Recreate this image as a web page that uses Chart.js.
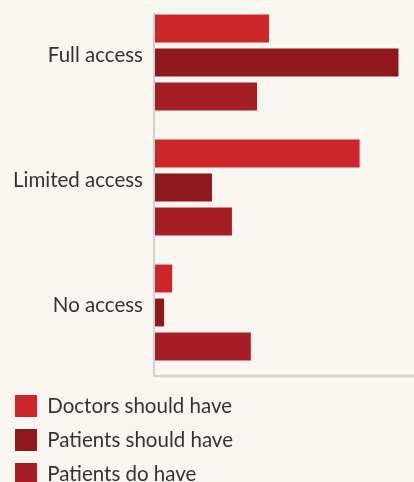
<!DOCTYPE html>
<html>
<head>
<meta charset="utf-8">
<script src="https://cdn.jsdelivr.net/npm/chart.js@4"></script>
<style>
  html, body { margin: 0; padding: 0; background: #f9f6f2; overflow: hidden; }
  #wrap { position: relative; width: 414px; height: 495px; }
</style>
</head>
<body>
<div id="wrap"><canvas id="myChart"></canvas></div>
<script>
// access levels and share of respondents (%)
const categories = ['Full access', 'Limited access', 'No access']
const doctorsShouldHave = [44, 79, 6.6]
const patientsShouldHave = [94, 22, 3.5]
const patientsDoHave = [39.4, 29.7, 37]
const seriesNames = ['Doctors should have', 'Patients should have', 'Patients do have']

// light grey axis lines (left + bottom), left one starts a bit below the top
const axisLines = {
  id: 'axisLines',
  afterDatasetsDraw(chart) {
    const { ctx, chartArea } = chart
    ctx.save()
    ctx.strokeStyle = '#d2d0cd'
    ctx.lineWidth = 2
    ctx.beginPath()
    ctx.moveTo(chartArea.left - 1, 13)
    ctx.lineTo(chartArea.left - 1, chartArea.bottom + 1)
    ctx.lineTo(chart.width, chartArea.bottom + 1)
    ctx.stroke()
    ctx.restore()
  }
}

const ctx = document.querySelector('#myChart')
new Chart(ctx, {
  type: 'bar',
  data: {
    labels: categories,
    datasets: [
      { label: seriesNames[0], data: doctorsShouldHave, backgroundColor: '#cc262b' },
      { label: seriesNames[1], data: patientsShouldHave, backgroundColor: '#8f181e' },
      { label: seriesNames[2], data: patientsDoHave, backgroundColor: '#a61e25' }
    ]
  },
  options: {
    indexAxis: 'y',
    responsive: true,
    maintainAspectRatio: false,
    animation: false,
    categoryPercentage: 0.816,
    barPercentage: 0.82,
    layout: { padding: { left: 3, right: 0, top: 0, bottom: 0 } },
    scales: {
      x: {
        min: 0,
        max: 100,
        display: true,
        ticks: { display: false },
        grid: { display: false, drawTicks: false },
        border: { display: false },
        afterFit(scale) { scale.height = 8 }
      },
      y: {
        ticks: {
          color: '#333',
          font: { family: 'Lato', size: 20.5 },
          padding: 12,
          labelOffset: -7
        },
        grid: { display: false, drawTicks: false },
        border: { display: false },
        afterFit(scale) {
          scale.width = 152
          scale.paddingTop = 0
          scale.paddingBottom = 0
        }
      }
    },
    plugins: {
      legend: {
        position: 'bottom',
        align: 'start',
        labels: {
          boxWidth: 22,
          boxHeight: 22,
          padding: 12,
          color: '#333',
          font: { family: 'Lato', size: 20.5 }
        }
      },
      tooltip: { enabled: false }
    }
  },
  plugins: [axisLines]
})
</script>
</body>
</html>
